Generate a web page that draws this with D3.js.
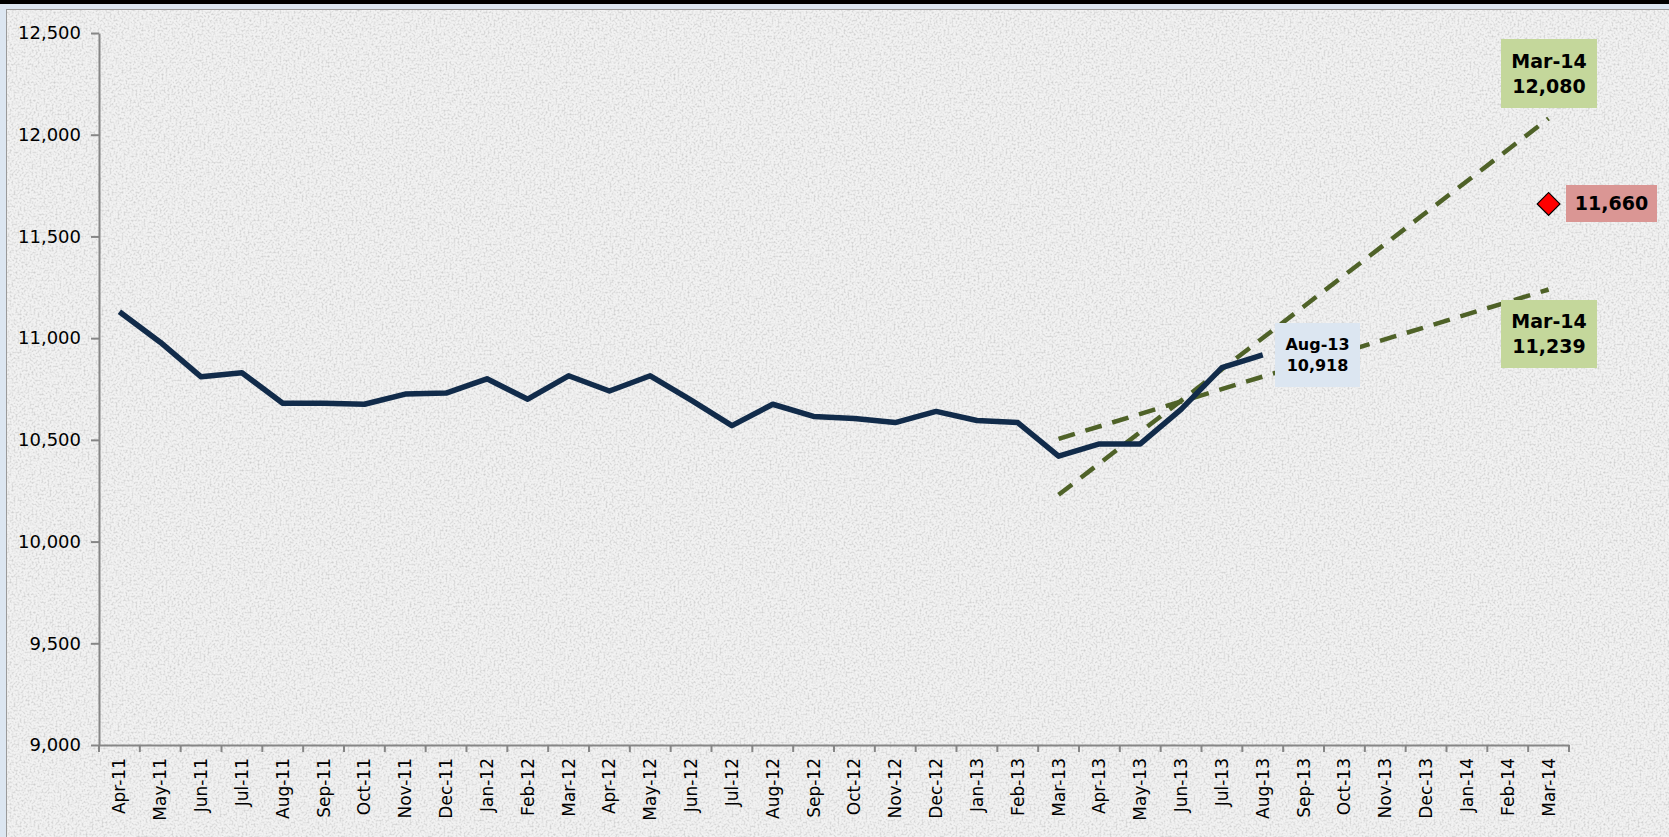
<!DOCTYPE html>
<html>
<head>
<meta charset="utf-8">
<script src="https://cdn.jsdelivr.net/npm/d3@7"></script>
<style>
  html, body { margin: 0; padding: 0; background: #dce6f1; overflow: hidden; }
  svg { display: block; font-family: "Comic Sans MS", "DejaVu Sans", sans-serif; }
</style>
</head>
<body>
<div id="area"></div>
<script>
const MONTHS = ["Apr-11","May-11","Jun-11","Jul-11","Aug-11","Sep-11","Oct-11","Nov-11","Dec-11",
  "Jan-12","Feb-12","Mar-12","Apr-12","May-12","Jun-12","Jul-12","Aug-12","Sep-12","Oct-12","Nov-12","Dec-12",
  "Jan-13","Feb-13","Mar-13","Apr-13","May-13","Jun-13","Jul-13","Aug-13","Sep-13","Oct-13","Nov-13","Dec-13",
  "Jan-14","Feb-14","Mar-14"];

// actual series, Apr-11 .. Aug-13
const ACTUAL = [11130, 10980, 10810, 10830, 10680, 10680, 10675, 10725, 10730,
  10800, 10700, 10815, 10740, 10815, 10695, 10570, 10675, 10615, 10605, 10585, 10640,
  10595, 10585, 10420, 10480, 10480, 10650, 10855, 10918];

// trend projections from Mar-13 to Mar-14
const TREND_HIGH = [{m: "Mar-13", v: 10230}, {m: "Mar-14", v: 12080}];
const TREND_LOW = [{m: "Mar-13", v: 10505}, {m: "Mar-14", v: 11239}];
const TARGET = {m: "Mar-14", v: 11660};

const Y_TICKS = [9000, 9500, 10000, 10500, 11000, 11500, 12000, 12500];

const W = 1669, H = 837;
const margin = {top: 33, left: 99, right: 100, bottom: 92};

const svg = d3.select("#area").append("svg").attr("width", W).attr("height", H);

// frame + textured background
const defs = svg.append("defs");
const f = defs.append("filter").attr("id", "grain").attr("x", 0).attr("y", 0).attr("width", "100%").attr("height", "100%");
f.append("feTurbulence").attr("type", "fractalNoise").attr("baseFrequency", 0.5).attr("numOctaves", 2).attr("seed", 4).attr("result", "n");
f.append("feColorMatrix").attr("in", "n").attr("type", "matrix")
  .attr("values", "0 0 0 0 0.6  0 0 0 0 0.6  0 0 0 0 0.6  0 0 0 -2.6 1.45")
  .attr("result", "c");
f.append("feComposite").attr("in", "c").attr("in2", "SourceGraphic").attr("operator", "in");

svg.append("rect").attr("x", 0).attr("y", 0).attr("width", W).attr("height", 4).attr("fill", "#000");
svg.append("rect").attr("x", 6).attr("y", 9).attr("width", W - 6).attr("height", H - 9).attr("fill", "#f2f2f2");
svg.append("rect").attr("x", 6).attr("y", 9).attr("width", W - 6).attr("height", H - 9).attr("fill", "#fff").attr("filter", "url(#grain)").attr("opacity", 0.9);
svg.append("line").attr("x1", 6).attr("x2", W).attr("y1", 9.5).attr("y2", 9.5).attr("stroke", "#9a9a9a");
svg.append("line").attr("x1", 6.5).attr("x2", 6.5).attr("y1", 9).attr("y2", H).attr("stroke", "#9a9a9a");

const x = d3.scaleBand().domain(MONTHS).range([margin.left, 1569]);
const y = d3.scaleLinear().domain([9000, 12500]).range([745, margin.top]);
const cx = m => x(m) + x.bandwidth() / 2;

// axes
const yAxis = svg.append("g").attr("transform", `translate(${margin.left},0)`)
  .call(d3.axisLeft(y).tickValues(Y_TICKS).tickSize(8).tickSizeOuter(0).tickPadding(10).tickFormat(d3.format(",")));
const xAxis = svg.append("g").attr("transform", `translate(0,${y(9000)})`)
  .call(d3.axisBottom(x).tickSize(0).tickSizeOuter(0));
[yAxis, xAxis].forEach(g => {
  g.attr("font-family", null).attr("font-size", null);
  g.select(".domain").attr("stroke", "#868686").attr("stroke-width", 2);
  g.selectAll(".tick line").attr("stroke", "#868686").attr("stroke-width", 2);
});
yAxis.selectAll("text").style("font-size", "18px").attr("fill", "#000");
xAxis.selectAll(".tick text").style("font-size", "17px").attr("fill", "#000")
  .attr("transform", "rotate(-90)").attr("text-anchor", "end").attr("dx", "-13").attr("dy", "0.35em").attr("y", 0);
// category boundary ticks
xAxis.selectAll(".sep").data(d3.range(MONTHS.length + 1)).enter().append("line")
  .attr("x1", i => margin.left + i * x.step()).attr("x2", i => margin.left + i * x.step())
  .attr("y1", 0).attr("y2", 7).attr("stroke", "#868686").attr("stroke-width", 2);

// trend lines
const tline = d3.line().x(d => cx(d.m)).y(d => y(d.v));
[TREND_HIGH, TREND_LOW].forEach(t => {
  svg.append("path").attr("d", tline(t)).attr("fill", "none")
    .attr("stroke", "#4f6228").attr("stroke-width", 4.5).attr("stroke-dasharray", "17 11");
});

// actual line
const line = d3.line().x((d, i) => cx(MONTHS[i])).y(d => y(d));
svg.append("path").attr("d", line(ACTUAL)).attr("fill", "none")
  .attr("stroke", "#112b4a").attr("stroke-width", 5.5).attr("stroke-linejoin", "round");

// target diamond
svg.append("path").attr("d", d3.symbol(d3.symbolSquare, 260)())
  .attr("transform", `translate(${cx(TARGET.m)},${y(TARGET.v)}) rotate(45)`)
  .attr("fill", "#ff0000").attr("stroke", "#000").attr("stroke-width", 1.2);

// label boxes
function box(x0, y0, w, h, fill, lines, size, weight) {
  svg.append("rect").attr("x", x0).attr("y", y0).attr("width", w).attr("height", h).attr("fill", fill);
  const t = svg.append("text").attr("text-anchor", "middle").style("font-size", size + "px").attr("font-weight", weight).attr("fill", "#000");
  const lh = size * 1.3;
  const first = y0 + h / 2 - (lines.length - 1) * lh / 2;
  lines.forEach((s, i) => t.append("tspan").attr("x", x0 + w / 2).attr("y", first + i * lh).attr("dy", "0.35em").text(s));
}
const last = ACTUAL.length - 1;
box(1275, 323, 85, 64, "#dce6f1", [MONTHS[last], d3.format(",")(ACTUAL[last])], 16, "bold");
box(1501, 39, 96, 69, "#c4d79b", [TREND_HIGH[1].m, d3.format(",")(TREND_HIGH[1].v)], 19, "bold");
box(1501, 300, 96, 68, "#c4d79b", [TREND_LOW[1].m, d3.format(",")(TREND_LOW[1].v)], 19, "bold");
box(1566, 185, 91, 37, "#da9694", [d3.format(",")(TARGET.v)], 19, "bold");
</script>
</body>
</html>
